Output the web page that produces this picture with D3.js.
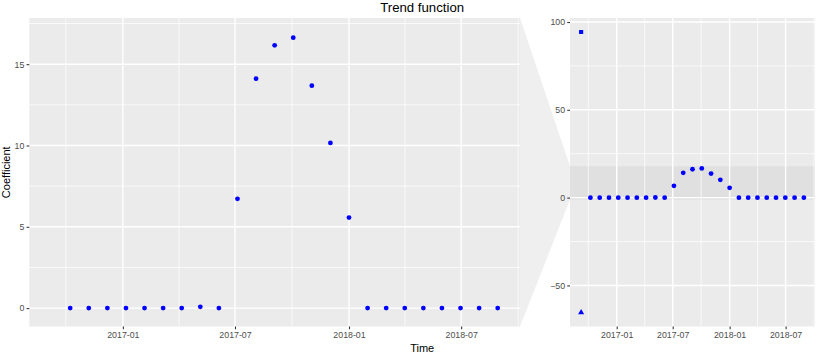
<!DOCTYPE html>
<html>
<head>
<meta charset="utf-8">
<script src="https://cdn.jsdelivr.net/npm/d3@7"></script>
<style>
  body { margin: 0; background: #fff; }
  svg text { font-family: "Liberation Sans", Arial, Helvetica, sans-serif; }
</style>
</head>
<body>
<div id="chart"></div>
<script>
// data
const dates = [
  "2016-10-08", "2016-11-07", "2016-12-07", "2017-01-06", "2017-02-05", "2017-03-07",
  "2017-04-06", "2017-05-06", "2017-06-05", "2017-07-05", "2017-08-04", "2017-09-03",
  "2017-10-03", "2017-11-02", "2017-12-02", "2018-01-01", "2018-01-31", "2018-03-02",
  "2018-04-01", "2018-05-01", "2018-05-31", "2018-06-30", "2018-07-30", "2018-08-29"
];
const coefficient = [
  0, 0, 0, 0, 0, 0, 0, 0.08, 0, 6.72, 14.11, 16.16,
  16.63, 13.68, 10.16, 5.57, 0, 0, 0, 0, 0, 0, 0, 0
];
const outlierDate = "2016-09-08";
const outlierValues = [94.3, -65.4];
const outlierShapes = ["square", "triangle"];

const zoomLimits = [-1.13, 17.84];   // y range shown in the zoomed panel
const xTickLabels = ["2017-01", "2017-07", "2018-01", "2018-07"];
const yTicksZoom = [0, 5, 10, 15];
const yTicksFull = [-50, 0, 50, 100];

const W = 830, H = 355;
const pTop = 18, pBottom = 326.5;
const leftBox = { x0: 29.3, x1: 520 };
const rightBox = { x0: 570, x1: 815 };

const parse = d3.utcParse("%Y-%m-%d");
const parseTick = d3.utcParse("%Y-%m");
const pts = dates.map((d, i) => ({ date: parse(d), value: coefficient[i] }));
const outs = outlierValues.map((v, i) => ({ date: parse(outlierDate), value: v, shape: outlierShapes[i] }));
const all = pts.concat(outs);

// ggplot style 5% expansion
function expand([a, b]) {
  const s = b - a;
  return [a - s * 0.05, b + s * 0.05];
}
const xExt = d3.extent(all, d => +d.date);
const xDom = expand(xExt).map(t => new Date(t));
const yFullDom = expand(d3.extent(all, d => d.value));

const xL = d3.scaleUtc().domain(xDom).range([leftBox.x0, leftBox.x1]);
const xR = d3.scaleUtc().domain(xDom).range([rightBox.x0, rightBox.x1]);
const yL = d3.scaleLinear().domain(zoomLimits).range([pBottom, pTop]);
const yR = d3.scaleLinear().domain(yFullDom).range([pBottom, pTop]);

const xMajor = xTickLabels.map(parseTick);
// minor breaks halfway between majors (majors extended one step each side)
const xMajorExt = [d3.utcMonth.offset(xMajor[0], -6), ...xMajor, d3.utcMonth.offset(xMajor[xMajor.length - 1], 6)];
const xMinor = d3.pairs(xMajorExt).map(([a, b]) => new Date((+a + +b) / 2))
  .filter(d => d >= xDom[0] && d <= xDom[1]);

function yMinorOf(ticks, dom) {
  const step = ticks[1] - ticks[0];
  const ext = [ticks[0] - step, ...ticks, ticks[ticks.length - 1] + step];
  return d3.pairs(ext).map(([a, b]) => (a + b) / 2).filter(v => v >= dom[0] && v <= dom[1]);
}

const svg = d3.select("#chart").append("svg")
  .attr("width", W).attr("height", H)
  .attr("viewBox", [0, 0, W, H]);

const zoomFill = "#bebebe", zoomOpacity = 0.25;

// connector between the panels
svg.append("path")
  .attr("d", d3.line()([
    [leftBox.x1, pTop], [rightBox.x0, yR(zoomLimits[1])],
    [rightBox.x0, yR(zoomLimits[0])], [leftBox.x1, pBottom]
  ]))
  .attr("fill", zoomFill).attr("fill-opacity", zoomOpacity);

function panel(x, y, box, yTicks, id, showZoom) {
  const g = svg.append("g");
  g.append("clipPath").attr("id", id)
    .append("rect").attr("x", box.x0).attr("y", pTop)
    .attr("width", box.x1 - box.x0).attr("height", pBottom - pTop);

  g.append("rect")
    .attr("x", box.x0).attr("y", pTop)
    .attr("width", box.x1 - box.x0).attr("height", pBottom - pTop)
    .attr("fill", "#ebebeb");

  if (showZoom) {
    g.append("rect")
      .attr("x", box.x0).attr("y", y(zoomLimits[1]))
      .attr("width", box.x1 - box.x0)
      .attr("height", y(zoomLimits[0]) - y(zoomLimits[1]))
      .attr("fill", zoomFill).attr("fill-opacity", zoomOpacity);
  }

  const grid = g.append("g").attr("stroke", "#fff").attr("fill", "none");
  grid.selectAll(".ymin").data(yMinorOf(yTicks, y.domain())).join("line")
    .attr("x1", box.x0).attr("x2", box.x1)
    .attr("y1", d => y(d)).attr("y2", d => y(d))
    .attr("stroke-width", 0.71);
  grid.selectAll(".xmin").data(xMinor).join("line")
    .attr("y1", pTop).attr("y2", pBottom)
    .attr("x1", d => x(d)).attr("x2", d => x(d))
    .attr("stroke-width", 0.71);
  grid.selectAll(".ymaj").data(yTicks).join("line")
    .attr("x1", box.x0).attr("x2", box.x1)
    .attr("y1", d => y(d)).attr("y2", d => y(d))
    .attr("stroke-width", 1.42);
  grid.selectAll(".xmaj").data(xMajor).join("line")
    .attr("y1", pTop).attr("y2", pBottom)
    .attr("x1", d => x(d)).attr("x2", d => x(d))
    .attr("stroke-width", 1.42);

  const marks = g.append("g").attr("clip-path", `url(#${id})`);
  marks.selectAll("circle").data(pts).join("circle")
    .attr("cx", d => x(d.date)).attr("cy", d => y(d.value))
    .attr("r", 2.4).attr("fill", "#0000ff");
  marks.selectAll("path").data(outs).join("path")
    .attr("transform", d => `translate(${x(d.date)},${y(d.value)})`)
    .attr("d", d => d3.symbol()
      .type(d.shape === "square" ? d3.symbolSquare : d3.symbolTriangle)
      .size(d.shape === "square" ? 17 : 16)())
    .attr("fill", "#0000ff");

  // axes
  const yAxis = d3.axisLeft(y).tickValues(yTicks).tickSize(2.74).tickPadding(2.2)
    .tickFormat(d3.format("d"));
  const ya = g.append("g").attr("transform", `translate(${box.x0},0)`).call(yAxis);
  const xAxis = d3.axisBottom(x).tickValues(xMajor).tickSize(2.74).tickPadding(2.6)
    .tickFormat(d3.utcFormat("%Y-%m"));
  const xa = g.append("g").attr("transform", `translate(0,${pBottom})`).call(xAxis);
  [ya, xa].forEach(a => {
    a.select(".domain").remove();
    a.selectAll(".tick line").attr("stroke", "#333333").attr("stroke-width", 1.07);
    a.selectAll(".tick text").attr("fill", "#4d4d4d").attr("font-size", "8.8px")
      .attr("font-family", '"Liberation Sans", Arial, sans-serif');
  });
}

panel(xL, yL, leftBox, yTicksZoom, "clipL", false);
panel(xR, yR, rightBox, yTicksFull, "clipR", true);

// titles
svg.append("text")
  .attr("x", (leftBox.x0 + rightBox.x1) / 2).attr("y", 11.8)
  .attr("text-anchor", "middle").attr("font-size", "13.2px").attr("fill", "#000")
  .text("Trend function");
svg.append("text")
  .attr("x", (leftBox.x0 + rightBox.x1) / 2).attr("y", 352)
  .attr("text-anchor", "middle").attr("font-size", "11px").attr("fill", "#000")
  .text("Time");
svg.append("text")
  .attr("transform", `translate(9.6,${(pTop + pBottom) / 2}) rotate(-90)`)
  .attr("text-anchor", "middle").attr("font-size", "11px").attr("fill", "#000")
  .text("Coefficient");
</script>
</body>
</html>
